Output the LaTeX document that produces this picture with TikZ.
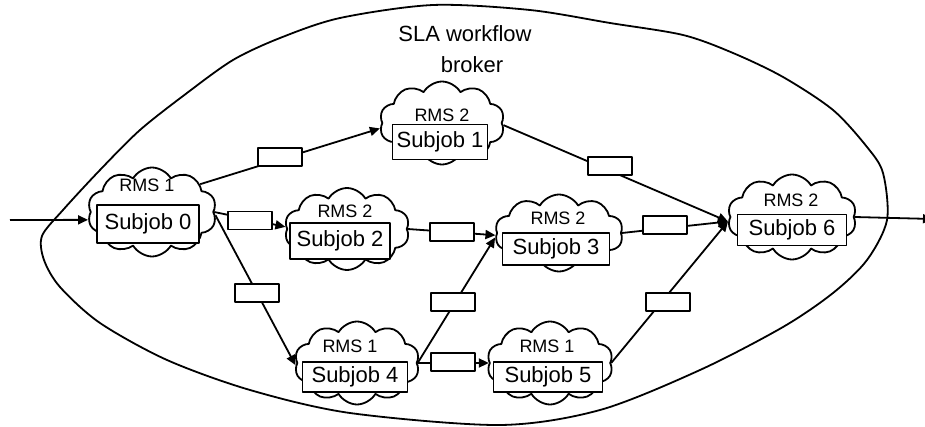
\documentclass[tikz,border=0pt]{standalone}
\usepackage{fontspec}
\setmainfont{Liberation Sans}
\usetikzlibrary{shapes.symbols,arrows.meta,calc}
\begin{document}
\begin{tikzpicture}[x=1pt,y=-1pt,line width=1.8pt,line join=round,
  rmscloud/.style={cloud, draw, fill=white, cloud puffs=10, cloud puff arc=120,
    cloud ignores aspect, inner sep=0pt, minimum width=127pt, minimum height=84pt},
  jobbox/.style={draw, fill=white, inner sep=0pt, minimum height=33pt,
    font=\fontsize{22}{26}\selectfont},
  rmslabel/.style={anchor=base, inner sep=0pt, font=\fontsize{18}{21}\selectfont},
  titletext/.style={anchor=base, inner sep=0pt, font=\fontsize{22}{26}\selectfont},
  msgbox/.style={draw, fill=white, inner sep=0pt, minimum width=44pt, minimum height=18pt},
  flow/.style={-{Triangle[length=10pt,width=9pt]}},
]
\useasboundingbox (0,0) rectangle (925,427);

% broker boundary
\draw plot[smooth cycle, tension=0.5] coordinates {
  (433,5) (530,10) (610,23) (683,35) (733,53) (783,77) (833,110) (867,147)
  (883,173) (887,220) (867,260) (833,293) (783,327) (700,370) (600,410)
  (500,425) (350,413) (250,390) (167,360) (100,323) (60,287) (44,260)
  (42,236) (63,210) (100,170) (140,130) (187,93) (233,60) (280,38) (340,18)};

\node[titletext] (t1) at (465,42) {SLA workflow};
\node[titletext] (t2) at (472,73) {broker};

% resource management systems
\node[rmscloud, minimum width=129pt, minimum height=89pt] (c0) at (152,212) {};
\node[rmscloud, minimum width=125pt, minimum height=83pt] (c1) at (442,123) {};
\node[rmscloud, minimum width=125pt, minimum height=82pt] (c2) at (347,229) {};
\node[rmscloud, minimum width=128pt, minimum height=77pt] (c3) at (559,233) {};
\node[rmscloud, minimum width=125pt, minimum height=83pt] (c4) at (357,363) {};
\node[rmscloud, minimum width=126pt, minimum height=83pt] (c5) at (550,363) {};
\node[rmscloud, minimum width=129pt, minimum height=85pt] (c6) at (792,217) {};

% workflow edges
\coordinate (in) at (10,220);
\coordinate (out) at (933,219);
\draw[flow] (in) -- (c0.187);
\draw[flow] (c0.30) -- (c1.185);
\draw[flow] (c0.0) -- (c2.178);
\draw[flow] (c0.-3) -- (c4.182);
\draw[flow] (c2.0) -- (c3.182);
\draw[flow] (c4.0) -- (c3.184);
\draw[flow] (c4.0) -- (c5.180);
\draw[flow] (c1.-2) -- (c6.184);
\draw[flow] (c3.0) -- (c6.184);
\draw[flow] (c5.0) -- (c6.184);
\draw[flow] (c6.0) -- (out);

% data transfer boxes
\node[msgbox] (m01) at (280,157) {};
\node[msgbox] (m02) at (250,220.5) {};
\node[msgbox] (m04) at (257,293) {};
\node[msgbox] (m23) at (452,232) {};
\node[msgbox] (m43) at (453,302) {};
\node[msgbox] (m45) at (453,362) {};
\node[msgbox] (m16) at (610,166) {};
\node[msgbox] (m36) at (665,225) {};
\node[msgbox] (m56) at (668,302) {};

% subjobs
\node[jobbox, minimum width=102pt, minimum height=38pt] (j0) at (148,224) {Subjob 0};
\node[jobbox, minimum width=95pt, minimum height=35pt] (j1) at (440,142) {Subjob 1};
\node[jobbox, minimum width=100pt, minimum height=36pt] (j2) at (340,241) {Subjob 2};
\node[jobbox, minimum width=107pt, minimum height=32pt] (j3) at (556,249) {Subjob 3};
\node[jobbox, minimum width=105pt, minimum height=30pt] (j4) at (355,377) {Subjob 4};
\node[jobbox, minimum width=109pt, minimum height=30pt] (j5) at (548,377) {Subjob 5};
\node[jobbox, minimum width=109pt, minimum height=31pt] (j6) at (792,230) {Subjob 6};

\node[rmslabel] (r0) at (147,192) {RMS 1};
\node[rmslabel] (r1) at (442,122) {RMS 2};
\node[rmslabel] (r2) at (345,218) {RMS 2};
\node[rmslabel] (r3) at (558,225) {RMS 2};
\node[rmslabel] (r4) at (350,352) {RMS 1};
\node[rmslabel] (r5) at (547,352) {RMS 1};
\node[rmslabel] (r6) at (791,207) {RMS 2};
\end{tikzpicture}
\end{document}
